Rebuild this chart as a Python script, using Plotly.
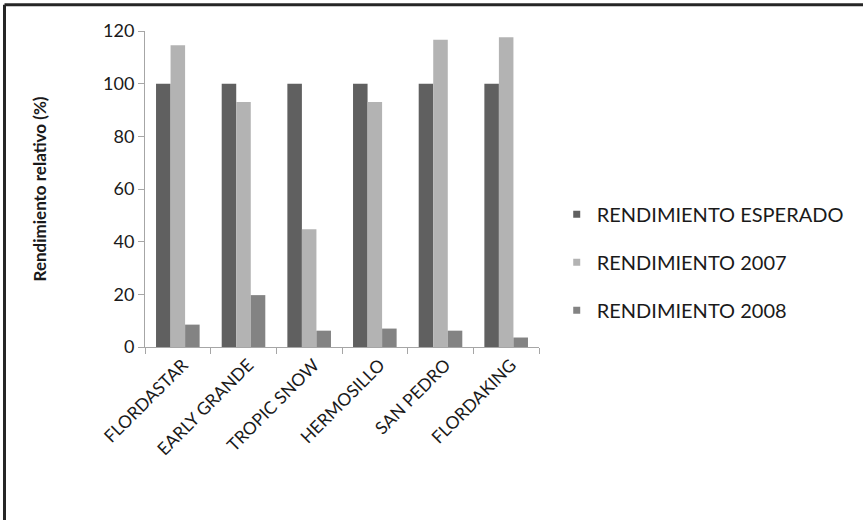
import plotly.graph_objects as go

# Relative yield by variety (%)
variedades = ["FLORDASTAR", "EARLY GRANDE", "TROPIC SNOW", "HERMOSILLO", "SAN PEDRO", "FLORDAKING"]
rend_esperado = [100, 100, 100, 100, 100, 100]
rend_2007 = [114.6, 93.0, 44.7, 93.0, 116.7, 117.6]
rend_2008 = [8.5, 19.7, 6.2, 7.0, 6.2, 3.6]

series = [
    ("RENDIMIENTO ESPERADO", rend_esperado, "#606060"),
    ("RENDIMIENTO 2007", rend_2007, "#b3b3b3"),
    ("RENDIMIENTO 2008", rend_2008, "#838383"),
]

FONT = "Lato"
AXIS_COLOR = "#a6a6a6"
TEXT_COLOR = "#1a1a1a"

fig = go.Figure()
for name, vals, color in series:
    fig.add_trace(go.Bar(
        x=variedades, y=vals, name=name,
        marker=dict(color=color, line=dict(width=0)),
        showlegend=False,
    ))

# Legend entries with small square keys
for i, (name, vals, color) in enumerate(series):
    fig.add_trace(go.Scatter(
        x=[None], y=[None], mode="markers", name=name,
        marker=dict(symbol="square", size=7, color=color),
        legendgroup=f"g{i}", showlegend=True,
    ))

fig.update_layout(
    width=863, height=520,
    margin=dict(l=145, r=324, t=31, b=173),
    paper_bgcolor="white", plot_bgcolor="white",
    barmode="group", bargap=0.336, bargroupgap=0,
    font=dict(family=FONT, size=17, color=TEXT_COLOR),
    legend=dict(
        x=1.045, xanchor="left", y=0.268, yanchor="middle",
        font=dict(family=FONT, size=20, color=TEXT_COLOR),
        traceorder="grouped", tracegroupgap=19,
        bgcolor="rgba(0,0,0,0)", borderwidth=0,
    ),
    xaxis=dict(
        showline=True, linecolor=AXIS_COLOR, linewidth=1,
        ticks="outside", ticklen=6, tickcolor=AXIS_COLOR,
        tickson="boundaries", tickangle=-45, ticklabelshift=5,
        tickfont=dict(family=FONT, size=17.5, color=TEXT_COLOR),
        showgrid=False, zeroline=False,
    ),
    yaxis=dict(
        range=[0, 120], tickmode="array", tickvals=[0, 20, 40, 60, 80, 100, 120],
        showline=True, linecolor=AXIS_COLOR, linewidth=1,
        ticks="outside", ticklen=6, tickcolor=AXIS_COLOR,
        tickfont=dict(family=FONT, size=18, color=TEXT_COLOR),
        showgrid=False, zeroline=False,
        title=dict(text="<b>Rendimiento relativo (%)</b>", standoff=52,
                   font=dict(family=FONT, size=17, color=TEXT_COLOR)),
    ),
    shapes=[
        # frame edges (top and left)
        dict(type="line", xref="paper", yref="paper", x0=-0.3566, x1=1.9, y0=1.0829, y1=1.0829,
             line=dict(color="#262626", width=3)),
        dict(type="line", xref="paper", yref="paper", x0=-0.3566, x1=-0.3566, y0=1.0829, y1=-0.6,
             line=dict(color="#262626", width=3)),
    ],
)

fig.write_html("out.html")
